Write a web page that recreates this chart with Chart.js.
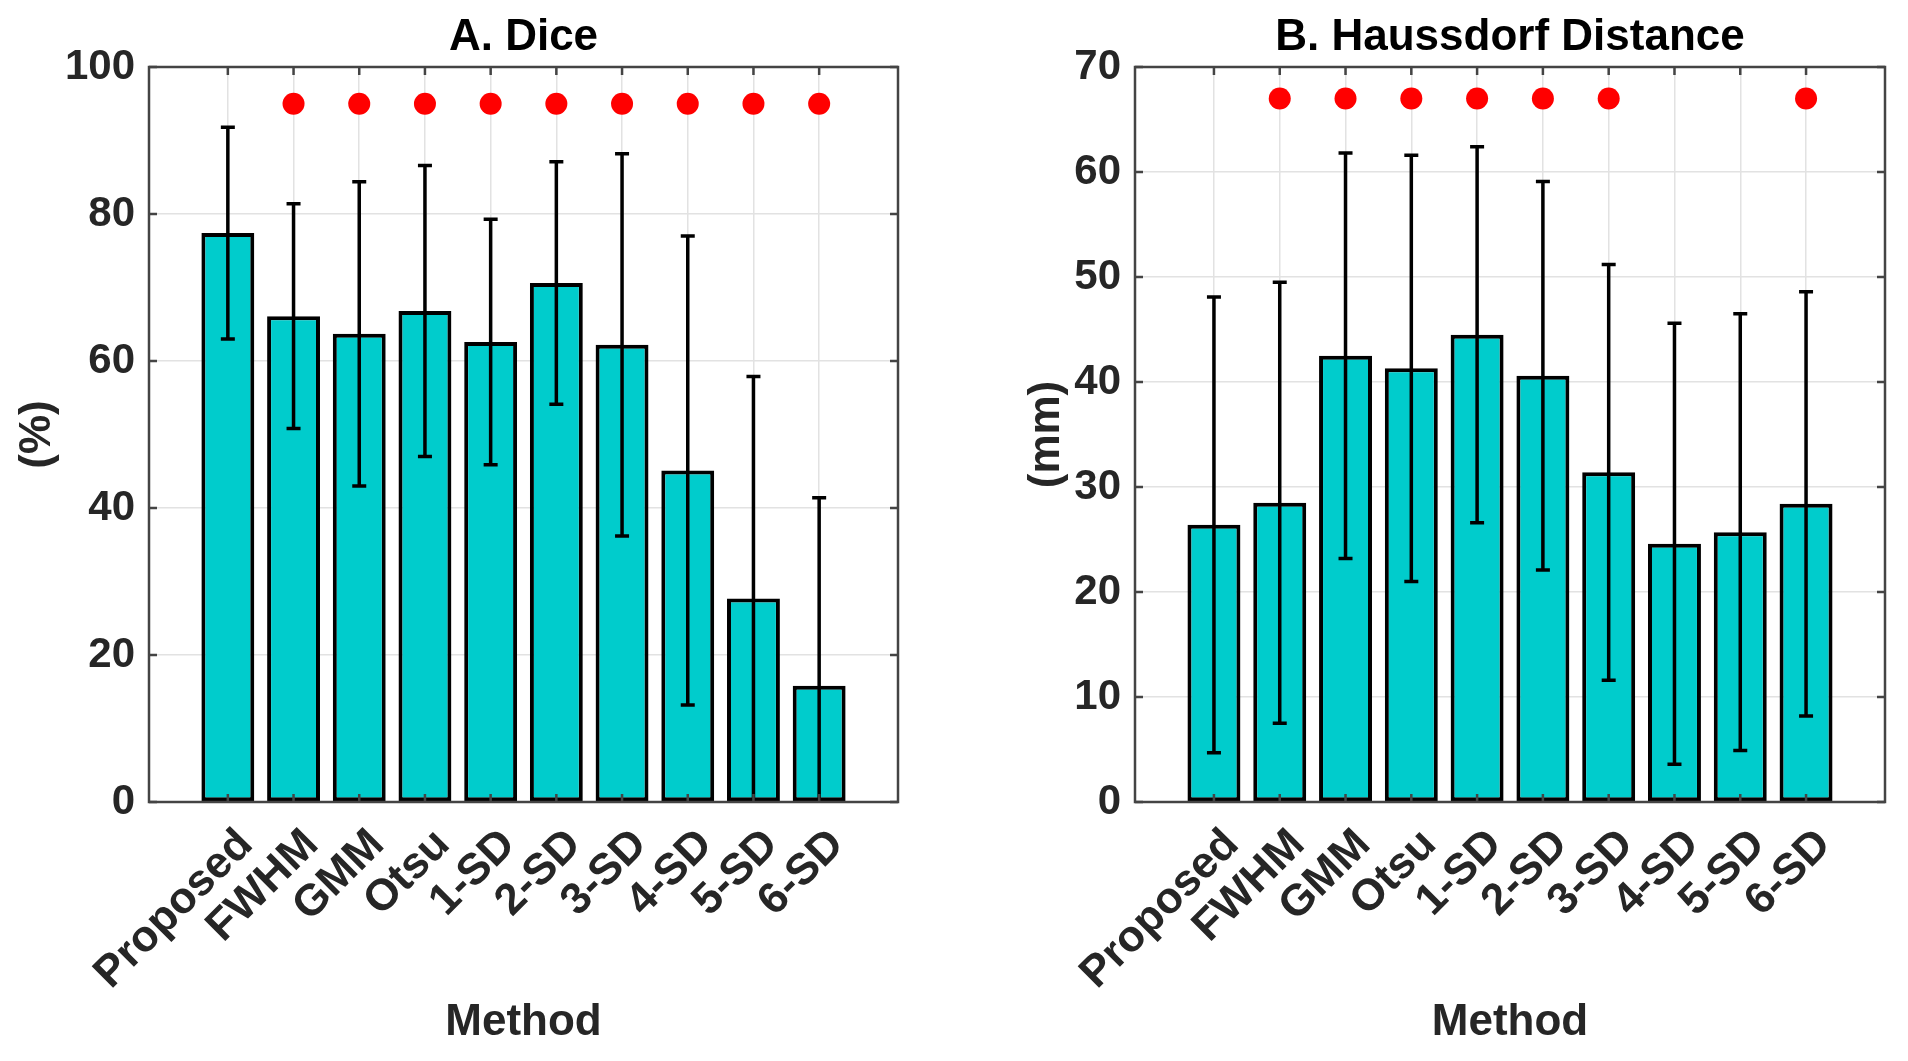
<!DOCTYPE html>
<html>
<head>
<meta charset="utf-8">
<script src="https://cdn.jsdelivr.net/npm/chart.js@4.4.1/dist/chart.umd.min.js"></script>
<style>
  html, body { margin:0; padding:0; background:#fff; }
  #wrap { position:relative; width:1908px; height:1061px; }
  .panel { position:absolute; top:0; width:954px; height:1061px; }
</style>
</head>
<body>
<div id="wrap">
  <div class="panel" style="left:0"><canvas id="chart-dice"></canvas></div>
  <div class="panel" style="left:954px"><canvas id="chart-hd"></canvas></div>
</div>
<script>
const METHODS = ['Proposed', 'FWHM', 'GMM', 'Otsu', '1-SD', '2-SD', '3-SD', '4-SD', '5-SD', '6-SD'];

// A. Dice (%)
const DICE_MEAN = [77.4, 66.1, 63.7, 66.8, 62.6, 70.6, 62.2, 45.1, 27.7, 15.8];
const DICE_SD   = [14.4, 15.3, 20.7, 19.8, 16.7, 16.5, 26.0, 31.9, 30.2, 25.6];
const DICE_SIG  = [0, 1, 1, 1, 1, 1, 1, 1, 1, 1];
const DICE_TICKS = [0, 20, 40, 60, 80, 100];
const DICE_MARK_Y = 95;

// B. Haussdorf distance (mm)
const HD_MEAN = [26.4, 28.5, 42.5, 41.3, 44.5, 40.6, 31.4, 24.6, 25.7, 28.4];
const HD_SD   = [21.7, 21.0, 19.3, 20.3, 17.9, 18.5, 19.8, 21.0, 20.8, 20.2];
const HD_SIG  = [0, 1, 1, 1, 1, 1, 1, 0, 0, 1];
const HD_TICKS = [0, 10, 20, 30, 40, 50, 60, 70];
const HD_MARK_Y = 67;

const FONT = "'Liberation Sans', Arial, Helvetica, sans-serif";
const TXT = '#262626';

// box round the plot + inward tick marks (matlab style)
const axesFrame = {
    id: 'axesFrame',
    afterDraw(chart) {
        const { ctx, chartArea: a, scales: { x, y } } = chart;
        ctx.save();
        ctx.strokeStyle = '#444';
        ctx.lineWidth = 2.5;
        ctx.beginPath();
        x.ticks.forEach(t => {
            const px = x.getPixelForValue(t.value);
            ctx.moveTo(px, a.bottom); ctx.lineTo(px, a.bottom - 8);
            ctx.moveTo(px, a.top); ctx.lineTo(px, a.top + 8);
        });
        y.ticks.forEach(t => {
            const py = y.getPixelForValue(t.value);
            ctx.moveTo(a.left, py); ctx.lineTo(a.left + 8, py);
            ctx.moveTo(a.right, py); ctx.lineTo(a.right - 8, py);
        });
        ctx.stroke();
        ctx.strokeRect(a.left, a.top, a.right - a.left, a.bottom - a.top);
        ctx.restore();
    }
};

// mean +- sd whiskers on top of the bars
const errorBars = {
    id: 'errorBars',
    afterDatasetsDraw(chart, args, opts) {
        const { ctx, chartArea: a, scales: { y } } = chart;
        const meta = chart.getDatasetMeta(0);
        const pts = chart.data.datasets[0].data;
        ctx.save();
        ctx.beginPath();
        ctx.rect(a.left, a.top, a.right - a.left, a.bottom - a.top);
        ctx.clip();
        ctx.strokeStyle = '#000';
        ctx.lineWidth = 3.5;
        meta.data.forEach((bar, i) => {
            const m = pts[i].y, s = opts.sd[i];
            const yHi = y.getPixelForValue(m + s);
            const yLo = y.getPixelForValue(m - s);
            ctx.beginPath();
            ctx.moveTo(bar.x, yLo); ctx.lineTo(bar.x, yHi);
            ctx.moveTo(bar.x - 7, yHi); ctx.lineTo(bar.x + 7, yHi);
            ctx.moveTo(bar.x - 7, yLo); ctx.lineTo(bar.x + 7, yLo);
            ctx.stroke();
        });
        ctx.restore();
    }
};

function makeChart(id, c) {
    new Chart(document.getElementById(id), {
        data: {
            datasets: [{
                type: 'bar',
                data: c.mean.map((v, i) => ({ x: i + 1, y: v })),
                backgroundColor: '#00cccc',
                borderColor: '#000',
                borderWidth: 4,
                borderSkipped: false,
                categoryPercentage: 1,
                barPercentage: 0.805
            }, {
                type: 'scatter',
                data: c.sig.map((s, i) => s ? { x: i + 1, y: c.markY } : null).filter(Boolean),
                backgroundColor: '#ff0000',
                borderWidth: 0,
                pointRadius: 11,
                pointHoverRadius: 11
            }]
        },
        plugins: [axesFrame, errorBars],
        options: {
            responsive: true,
            maintainAspectRatio: false,
            animation: false,
            events: [],
            layout: { padding: { left: c.padLeft, right: c.padRight, top: 0, bottom: 0 } },
            plugins: {
                legend: { display: false },
                tooltip: { enabled: false },
                title: {
                    display: true, text: c.title, fullSize: false, color: '#000',
                    font: { family: FONT, size: 44, weight: 'bold' },
                    padding: { top: 11, bottom: 3.2 }
                },
                errorBars: { sd: c.sd }
            },
            scales: {
                x: {
                    type: 'linear', min: -0.2, max: 11.2, offset: false,
                    afterBuildTicks: ax => { ax.ticks = METHODS.map((m, i) => ({ value: i + 1 })); },
                    afterFit: s => { s.height = 259; },
                    grid: { color: '#e2e2e2', lineWidth: 1.5, drawTicks: false, offset: false },
                    border: { display: false },
                    ticks: {
                        callback: v => METHODS[v - 1],
                        autoSkip: false, minRotation: 45, maxRotation: 45,
                        padding: 17, labelOffset: 18, color: TXT,
                        font: { family: FONT, size: 44, weight: 'bold' }
                    },
                    title: {
                        display: true, text: 'Method', color: TXT,
                        font: { family: FONT, size: 44, weight: 'bold' },
                        padding: { top: 0, bottom: 12 }
                    }
                },
                y: {
                    min: 0, max: c.yTicks[c.yTicks.length - 1],
                    afterBuildTicks: ax => { ax.ticks = c.yTicks.map(v => ({ value: v })); },
                    afterFit: s => { s.width = c.yWidth; },
                    grid: { color: '#e2e2e2', lineWidth: 1.5, drawTicks: false },
                    border: { display: false },
                    ticks: { padding: 14, color: TXT, font: { family: FONT, size: 42, weight: 'bold' } },
                    title: {
                        display: true, text: c.yTitle, color: TXT,
                        font: { family: FONT, size: 44, weight: 'bold' },
                        padding: { top: c.yTitlePad, bottom: 0 }
                    }
                }
            }
        }
    });
}

makeChart('chart-dice', {
    title: 'A. Dice', yTitle: '(%)',
    mean: DICE_MEAN, sd: DICE_SD, sig: DICE_SIG, markY: DICE_MARK_Y, yTicks: DICE_TICKS,
    padLeft: 0, padRight: 56, yWidth: 149, yTitlePad: 11
});

makeChart('chart-hd', {
    title: 'B. Haussdorf Distance', yTitle: '(mm)',
    mean: HD_MEAN, sd: HD_SD, sig: HD_SIG, markY: HD_MARK_Y, yTicks: HD_TICKS,
    padLeft: 0, padRight: 23, yWidth: 181, yTitlePad: 66
});
</script>
</body>
</html>
